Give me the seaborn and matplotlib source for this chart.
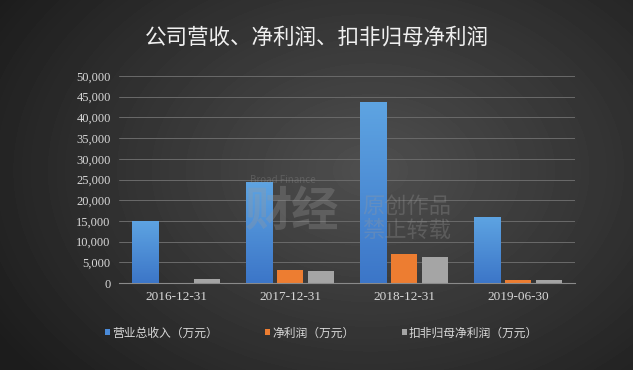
import numpy as np
import pandas as pd
import seaborn as sns
import matplotlib.pyplot as plt

# data (万元)
periods = ['2016-12-31', '2017-12-31', '2018-12-31', '2019-06-30']
revenue = [15000, 24500, 43700, 16000]
net_profit = [80, 3200, 7100, 800]
net_profit_ex = [1000, 3000, 6300, 700]
series_names = ['营业总收入（万元）', '净利润（万元）', '扣非归母净利润（万元）']
colors = ['#4a8ad8', '#ed7d31', '#a5a5a5']

df = pd.DataFrame({
    'period': periods * 3,
    'value': revenue + net_profit + net_profit_ex,
    'series': [series_names[0]] * 4 + [series_names[1]] * 4 + [series_names[2]] * 4,
})

sns.set_theme(style='dark')
plt.rcParams['font.family'] = ['Noto Sans CJK SC', 'DejaVu Sans']

fig = plt.figure(figsize=(6.33, 3.70), dpi=100)

# background: dark radial gradient
bg = fig.add_axes([0, 0, 1, 1], zorder=-10)
yy, xx = np.mgrid[0:370, 0:633]
r = np.sqrt(((xx - 370) / 420.0) ** 2 + ((yy - 170) / 300.0) ** 2)
shade = np.clip(0.31 - 0.19 * r, 0.11, 0.32)
bg.imshow(shade, cmap='gray', vmin=0, vmax=1, aspect='auto', extent=[0, 1, 0, 1])
bg.set_xlim(0, 1)
bg.set_ylim(0, 1)
bg.axis('off')

ax = fig.add_axes([119 / 633, 1 - 283 / 370, 456 / 633, 207 / 370])
ax.set_facecolor('none')
sns.barplot(data=df, x='period', y='value', hue='series', palette=colors,
            width=0.816, gap=0.16, ax=ax, saturation=1, legend=True, linewidth=0)

# gradient on blue bars
for p in ax.patches[:4]:
    x0, w, h = p.get_x(), p.get_width(), p.get_height()
    grad = np.linspace(0, 1, 100).reshape(-1, 1)
    im = ax.imshow(grad, cmap=sns.blend_palette(['#3c76c8', '#5ea4e2'], as_cmap=True),
                   aspect='auto', extent=[x0, x0 + w, 0, h], origin='lower', zorder=3)
    im.set_clip_path(p)

ax.set_xlim(-0.5, 3.5)
ax.set_ylim(0, 50000)
ax.set_yticks(np.arange(0, 50001, 5000))
ax.set_yticklabels([f'{v:,}' for v in range(0, 50001, 5000)],
                   family='Liberation Serif', fontsize=9, color='#d8d8d8')
ax.set_xticks(range(4))
ax.set_xticklabels(periods, family='Liberation Serif', fontsize=9.5, color='#d8d8d8')
ax.tick_params(axis='both', length=0, pad=6)
ax.set_xlabel('')
ax.set_ylabel('')
ax.grid(axis='y', color='#6a6a6a', linewidth=0.7)
ax.set_axisbelow(True)
for s in ['top', 'right', 'left']:
    ax.spines[s].set_visible(False)
ax.spines['bottom'].set_color('#8a8a8a')
ax.spines['bottom'].set_linewidth(0.8)

# watermark (semi-transparent, over the bars)
fig.text(362 / 633, 1 - 218 / 370, '原创作品\n禁止转载', fontsize=16, color='#9a9a9a', alpha=0.3,
         ha='left', va='center', linespacing=1.05, zorder=20)
fig.text(245 / 633, 1 - 212 / 370, '财经', fontsize=34, color='#9a9a9a', alpha=0.3,
         ha='left', va='center', fontweight='bold', zorder=20)
fig.text(250 / 633, 1 - 180 / 370, 'Broad Finance', fontsize=7, color='#9a9a9a', alpha=0.3,
         ha='left', va='center', zorder=20)

fig.text(0.5, 1 - 38 / 370, '公司营收、净利润、扣非归母净利润', ha='center', va='center',
         fontsize=15.5, color='#f0f0f0')

handles, labels = ax.get_legend_handles_labels()
ax.legend_.remove()
fig.legend(handles, labels, loc='center', bbox_to_anchor=(0.508, 1 - 333 / 370), ncol=3,
           frameon=False, fontsize=8.5, labelcolor='#d8d8d8', handlelength=0.45,
           handleheight=0.45, handletextpad=0.15, columnspacing=4.0)

fig.savefig('out.png', dpi=100)
